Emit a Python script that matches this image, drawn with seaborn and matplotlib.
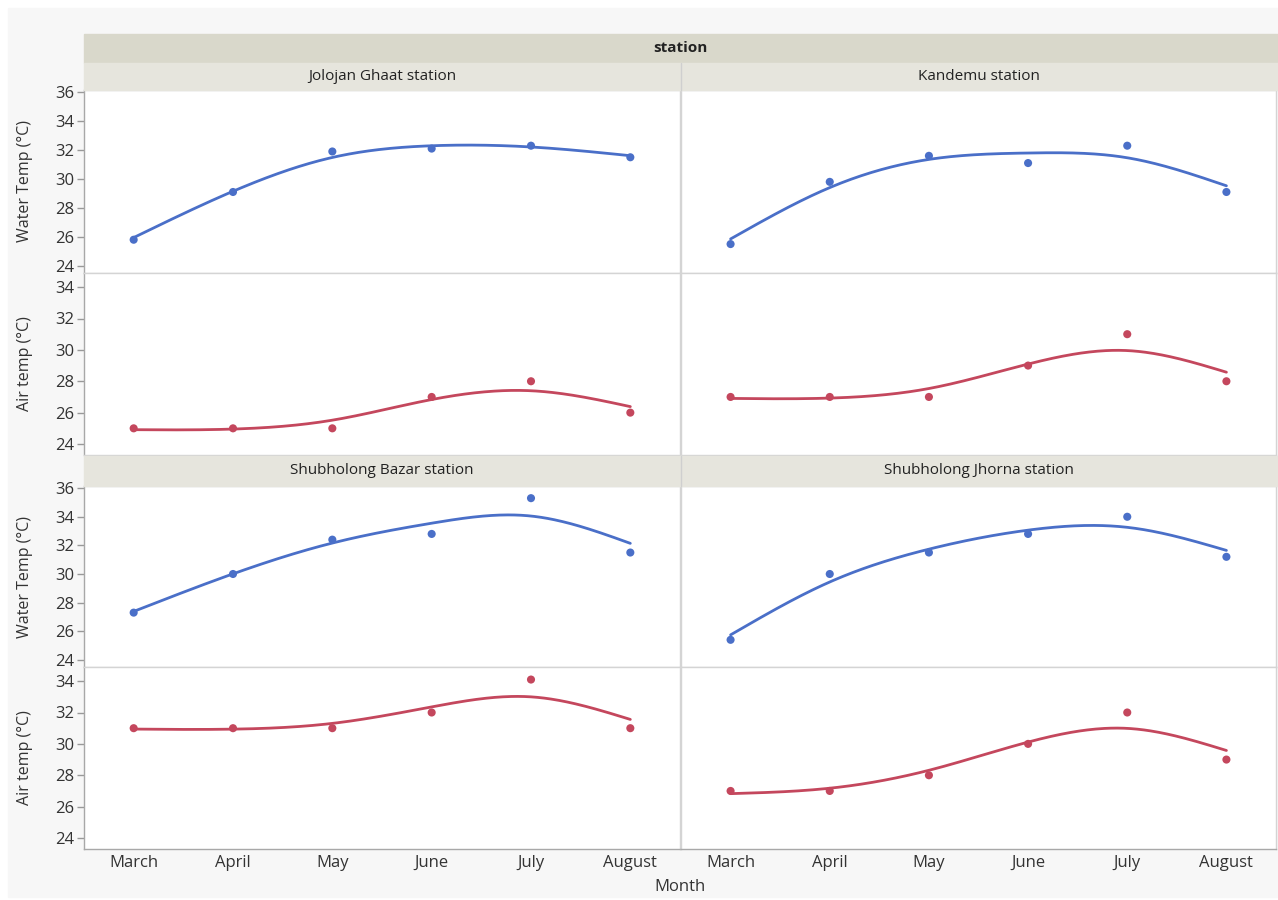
import numpy as np
import pandas as pd
import matplotlib
matplotlib.use("Agg")
import matplotlib.pyplot as plt
from matplotlib.patches import Rectangle
import seaborn as sns

months = ["March", "April", "May", "June", "July", "August"]
stations = ["Jolojan Ghaat station", "Kandemu station",
            "Shubholong Bazar station", "Shubholong Jhorna station"]

jolojan_water = [25.8, 29.1, 31.9, 32.1, 32.3, 31.5]
jolojan_air = [25, 25, 25, 27, 28, 26]
kandemu_water = [25.5, 29.8, 31.6, 31.1, 32.3, 29.1]
kandemu_air = [27, 27, 27, 29, 31, 28]
bazar_water = [27.3, 30.0, 32.4, 32.8, 35.3, 31.5]
bazar_air = [31, 31, 31, 32, 34.1, 31]
jhorna_water = [25.4, 30.0, 31.5, 32.8, 34.0, 31.2]
jhorna_air = [27, 27, 28, 30, 32, 29]

water_ticks = [24, 26, 28, 30, 32, 34, 36]
air_ticks = [24, 26, 28, 30, 32, 34]

water = [jolojan_water, kandemu_water, bazar_water, jhorna_water]
air = [jolojan_air, kandemu_air, bazar_air, jhorna_air]

rows = []
for s, w, a in zip(stations, water, air):
    for i, m in enumerate(months):
        rows.append((s, m, i, "Water Temp (°C)", w[i]))
        rows.append((s, m, i, "Air temp (°C)", a[i]))
df = pd.DataFrame(rows, columns=["station", "Month", "pos", "var", "value"])

BLUE = "#4a6fc8"
RED = "#c4475d"


def spline_smooth(y, lam=0.18, n=301):
    # penalised least squares on a fine grid, close to a cubic smoothing spline
    y = np.asarray(y, dtype=float)
    k = len(y)
    xs = np.linspace(0, k - 1, n)
    idx = np.round(np.arange(k) * (n - 1) / (k - 1)).astype(int)
    w = np.zeros(n)
    w[idx] = 1.0
    z = np.zeros(n)
    z[idx] = y
    D = np.diff(np.eye(n), 2, axis=0)
    h = xs[1] - xs[0]
    A = np.diag(w) + lam * (D.T @ D) / h ** 3
    return xs, np.linalg.solve(A, w * z)


sns.set_style("white")
plt.rcParams["font.family"] = ["Open Sans", "DejaVu Sans"]

W, H = 1278, 900
fig = plt.figure(figsize=(W / 100, H / 100), dpi=100)
fig.patch.set_facecolor("white")


def rect(l, t, r, b):
    return [l / W, 1 - b / H, (r - l) / W, (b - t) / H]


# grey canvas and header bands
fig.add_artist(Rectangle((8 / W, 1 - 897 / H), (1278 - 8) / W, (897 - 8) / H,
                         transform=fig.transFigure, color="#f7f7f7", zorder=0))
fig.add_artist(Rectangle((84 / W, 1 - 63 / H), (1278 - 84) / W, 29 / H,
                         transform=fig.transFigure, color="#d9d8cb", zorder=1))
fig.text(680 / W, 1 - 48 / H, "station", ha="center", va="center",
         fontsize=11, fontweight="bold", color="#222222")

cols = [(84, 680), (681, 1276)]
blocks = [(63, 90, 273, 455), (456, 486, 667, 849)]

for bi, (bt, t1, t2, bb) in enumerate(blocks):
    fig.add_artist(Rectangle((84 / W, 1 - t1 / H), (1278 - 84) / W, (t1 - bt) / H,
                             transform=fig.transFigure, color="#e6e5dd", zorder=1))
    fig.add_artist(plt.Line2D([680.5 / W, 680.5 / W], [1 - t1 / H, 1 - bt / H],
                              transform=fig.transFigure, color="#cfcfcf", lw=1, zorder=2))
    for ci, (l, r) in enumerate(cols):
        st = stations[bi * 2 + ci]
        fig.text((l + r) / 2 / W, 1 - (bt + t1) / 2 / H, st, ha="center", va="center",
                 fontsize=11, color="#222222")
        sub = df[df["station"] == st]
        for ri, (var, color, ticks, ylim, top, bot) in enumerate([
                ("Water Temp (°C)", BLUE, water_ticks, (23.5, 36.15), t1, t2),
                ("Air temp (°C)", RED, air_ticks, (23.3, 34.9), t2, bb)]):
            ax = fig.add_axes(rect(l, top, r, bot))
            d = sub[sub["var"] == var]
            xs, ys = spline_smooth(d["value"].values)
            sns.lineplot(x=xs, y=ys, ax=ax, color=color, lw=2.0, zorder=3)
            sns.scatterplot(data=d, x="pos", y="value", ax=ax, color=color,
                            s=34, edgecolor="none", zorder=4)
            ax.set_xlim(-0.5, 5.5)
            ax.set_ylim(*ylim)
            ax.set_facecolor("white")
            for sp in ax.spines.values():
                sp.set_color("#d4d4d4")
                sp.set_linewidth(1)
            ax.set_xlabel("")
            ax.set_ylabel("")
            ax.set_xticks(range(len(months)))
            ax.set_yticks(ticks)
            if ci == 0:
                ax.spines["left"].set_color("#a8a8a8")
                ax.tick_params(axis="y", left=True, length=5, width=1, color="#999999",
                               labelsize=12, labelcolor="#333333", pad=2)
                ax.set_ylabel(var, fontsize=11.5, color="#333333")
                ax.yaxis.set_label_coords(-0.086, 0.5)
            else:
                ax.tick_params(axis="y", left=False, labelleft=False)
            if bi == 1 and ri == 1:
                ax.spines["bottom"].set_color("#a8a8a8")
                ax.set_xticklabels(months)
                ax.tick_params(axis="x", bottom=False, labelsize=12,
                               labelcolor="#333333", pad=1)
            else:
                ax.tick_params(axis="x", bottom=False, labelbottom=False)

fig.text(680 / W, 1 - 887 / H, "Month", ha="center", va="center",
         fontsize=12, color="#333333")

fig.savefig("out.png", dpi=100, facecolor=fig.get_facecolor())
